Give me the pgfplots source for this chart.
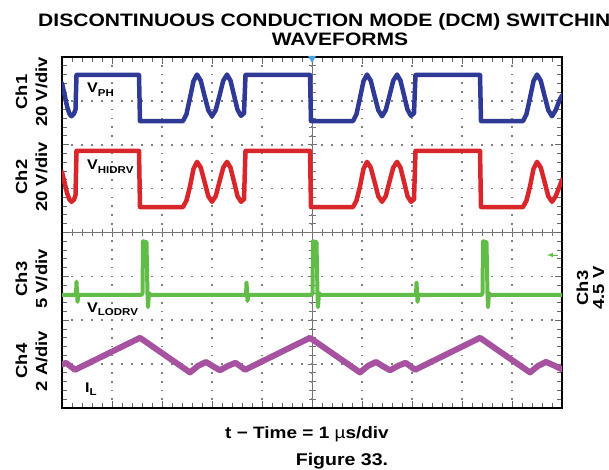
\documentclass[border=0pt]{standalone}
\usepackage{pgfplots}
\pgfplotsset{compat=1.18}
\usepackage{fontspec}
\setmainfont{Liberation Sans}
\usepackage{graphicx}
\definecolor{cblue}{RGB}{46,58,150}
\definecolor{cred}{RGB}{217,38,43}
\definecolor{cgreen}{RGB}{98,189,72}
\definecolor{cmag}{RGB}{166,82,160}
\definecolor{ctrig}{RGB}{74,163,223}
\newcommand{\W}[1]{\scalebox{1.15}[1]{#1}}
\begin{document}
\begin{tikzpicture}[x=1pt,y=1pt]
\useasboundingbox (0,0) rectangle (609,469);
% centre cross with crossing ticks
\begin{axis}[at={(62pt,61pt)}, anchor=south west, width=500pt, height=351pt, scale only axis,
 xmin=-5,xmax=5,ymin=-4,ymax=4, axis lines=center, axis line style={-, black!55, line width=1pt},
 tick align=center, minor tick num=4, xtick={-5,...,5}, ytick={-4,...,4},
 xticklabels={}, yticklabels={},
 major tick length=9pt, minor tick length=7pt, tick style={black!55, line width=0.9pt}]
\end{axis}
\begin{axis}[at={(62pt,61pt)}, anchor=south west, width=500pt, height=351pt, scale only axis,
 xmin=0,xmax=10,ymin=0,ymax=8, xtick={0,...,10}, ytick={0,...,8}, minor tick num=4,
 xticklabels={}, yticklabels={}, tick align=inside,
 major tick length=7pt, minor tick length=5pt,
 tick style={black!60, line width=1pt},
 grid=major,
 major x grid style={black!50, line width=1.7pt, dash pattern=on 1.7pt off 7.075pt, dash phase=0.85pt},
 major y grid style={black!50, line width=1.7pt, dash pattern=on 1.7pt off 8.3pt, dash phase=0.85pt},
 axis line style={line width=2.4pt, black},
 every axis plot/.append style={line join=round, line cap=round}]
% Ch1 V_PH
\addplot[cblue, line width=4.5pt] coordinates {
(0.00,7.40)(0.05,7.15)(0.10,6.88)(0.15,6.70)(0.19,6.65)(0.24,6.71)(0.27,6.80)(0.29,7.59)
(1.54,7.59)(1.56,6.54)(2.42,6.54)
(2.49,6.70)(2.56,7.07)(2.63,7.45)(2.70,7.60)(2.775,7.46)(2.85,7.12)(2.925,6.79)(3.00,6.65)(3.075,6.79)(3.15,7.12)(3.225,7.46)(3.30,7.60)(3.37,7.46)(3.44,7.13)(3.51,6.80)(3.58,6.66)(3.64,6.72)(3.67,7.59)
(4.96,7.59)(4.98,6.54)(5.82,6.54)
(5.89,6.70)(5.96,7.07)(6.03,7.45)(6.10,7.60)(6.175,7.46)(6.25,7.12)(6.325,6.79)(6.40,6.65)(6.475,6.79)(6.55,7.12)(6.625,7.46)(6.70,7.60)(6.77,7.46)(6.84,7.13)(6.91,6.80)(6.98,6.66)(7.04,6.72)(7.07,7.59)
(8.36,7.59)(8.38,6.54)(9.22,6.54)
(9.29,6.70)(9.36,7.07)(9.43,7.45)(9.50,7.60)(9.575,7.46)(9.65,7.12)(9.725,6.79)(9.80,6.65)(9.875,6.79)(9.95,7.02)(10.0,7.12)
};
% Ch2 V_HIDRV
\addplot[cred, line width=4.5pt] coordinates {
(0.00,5.38)(0.05,5.14)(0.10,4.90)(0.15,4.75)(0.19,4.70)(0.24,4.75)(0.27,4.85)(0.29,5.86)
(1.54,5.86)(1.56,4.58)(2.42,4.58)
(2.49,4.73)(2.56,5.05)(2.63,5.45)(2.70,5.61)(2.775,5.48)(2.85,5.16)(2.925,4.83)(3.00,4.70)(3.075,4.83)(3.15,5.16)(3.225,5.48)(3.30,5.61)(3.37,5.48)(3.44,5.16)(3.51,4.83)(3.58,4.70)(3.64,4.76)(3.67,5.86)
(4.96,5.86)(4.98,4.58)(5.82,4.58)
(5.89,4.73)(5.96,5.05)(6.03,5.45)(6.10,5.61)(6.175,5.48)(6.25,5.16)(6.325,4.83)(6.40,4.70)(6.475,4.83)(6.55,5.16)(6.625,5.48)(6.70,5.61)(6.77,5.48)(6.84,5.16)(6.91,4.83)(6.98,4.70)(7.04,4.76)(7.07,5.86)
(8.36,5.86)(8.38,4.58)(9.22,4.58)
(9.29,4.73)(9.36,5.05)(9.43,5.45)(9.50,5.61)(9.575,5.48)(9.65,5.16)(9.725,4.83)(9.80,4.70)(9.875,4.83)(9.95,5.05)(10.0,5.20)
};
% Ch3 V_LODRV
\addplot[cgreen, line width=4pt] coordinates {
(0.00,2.58)(0.28,2.58)(0.29,2.88)(0.31,2.42)(0.33,2.58)
(1.59,2.58)(1.61,2.62)(1.62,3.80)(1.69,3.78)(1.71,2.58)(1.72,2.30)(1.74,2.62)(1.76,2.58)
(3.68,2.58)(3.69,2.86)(3.71,2.44)(3.73,2.58)
(4.99,2.58)(5.01,2.62)(5.02,3.80)(5.09,3.78)(5.11,2.58)(5.12,2.30)(5.14,2.62)(5.16,2.58)
(7.08,2.58)(7.09,2.86)(7.11,2.42)(7.13,2.58)
(8.39,2.58)(8.41,2.62)(8.42,3.80)(8.49,3.78)(8.51,2.58)(8.52,2.30)(8.54,2.62)(8.56,2.58)
(10.0,2.58)
};
% Ch4 I_L
\addplot[cmag, line width=6pt] coordinates {
(0.00,0.99)(0.08,1.03)(0.26,0.87)(1.56,1.60)(2.56,0.81)(2.72,0.96)(2.88,1.05)(3.02,0.95)(3.16,0.86)(3.32,0.96)(3.47,1.03)(3.57,0.95)(3.66,0.87)
(4.96,1.60)(5.96,0.81)(6.12,0.96)(6.28,1.05)(6.42,0.95)(6.56,0.86)(6.72,0.96)(6.87,1.03)(6.97,0.95)(7.06,0.87)
(8.36,1.60)(9.36,0.81)(9.52,0.96)(9.68,1.05)(9.84,0.97)(10.0,0.88)
};
\end{axis}
% trigger markers
\fill[ctrig] (308,413) -- (316,413) -- (312,406) -- cycle;
\draw[cgreen, line width=1pt, -latex] (558,214) -- (547,214);
% title
\node[anchor=base west, inner sep=0pt, font=\fontsize{18}{20}\selectfont\bfseries] at (38,442)
  {\scalebox{1.17}[1]{DISCONTINUOUS CONDUCTION MODE (DCM) SWITCHING}};
\node[anchor=base, inner sep=0pt, font=\fontsize{18}{20}\selectfont\bfseries] at (340,423)
  {\scalebox{1.17}[1]{WAVEFORMS}};
% left labels
\begin{scope}[every node/.style={rotate=90, anchor=base, inner sep=0pt, font=\fontsize{16}{18}\selectfont\bfseries}]
\node at (27,377) {\W{Ch1}};
\node at (47,377) {\W{20 V/div}};
\node at (27,292) {\W{Ch2}};
\node at (47,292) {\W{20 V/div}};
\node at (27,190) {\W{Ch3}};
\node at (47,190) {\W{5 V/div}};
\node at (27,108) {\W{Ch4}};
\node at (47,108) {\W{2 A/div}};
\node at (588,181) {\W{Ch3}};
\node at (604,181) {\W{4.5 V}};
\end{scope}
% trace labels
\begin{scope}[every node/.style={anchor=base west, inner sep=0pt, font=\fontsize{14}{16}\selectfont\bfseries}]
\node at (87,376) {\W{V\raisebox{-3.5pt}{\fontsize{10}{10}\selectfont PH}}};
\node at (87,299) {\W{V\raisebox{-3.5pt}{\fontsize{10}{10}\selectfont HIDRV}}};
\node at (87,157) {\W{V\raisebox{-3.5pt}{\fontsize{10}{10}\selectfont LODRV}}};
\node at (85,77) {\W{I\raisebox{-3.5pt}{\fontsize{10}{10}\selectfont L}}};
\end{scope}
% x label and caption
\node[anchor=base, inner sep=0pt, font=\fontsize{16.5}{18}\selectfont\bfseries] at (307,31)
  {\W{t − Time = 1 {\mdseries µ}s/div}};
\node[anchor=base, inner sep=0pt, font=\fontsize{17}{19}\selectfont\bfseries] at (342,4)
  {\W{Figure 33.}};
\end{tikzpicture}
\end{document}
